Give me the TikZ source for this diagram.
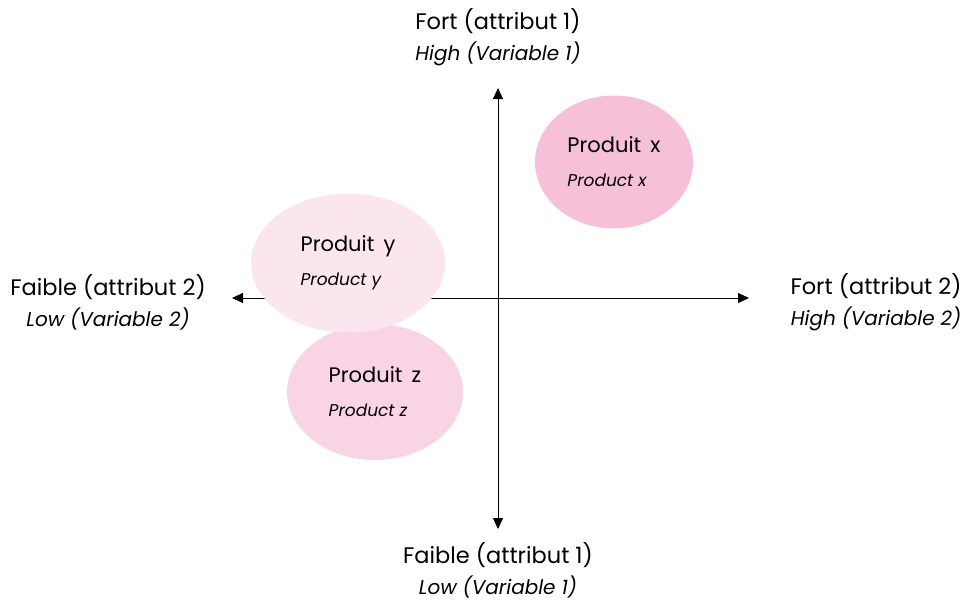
\documentclass[tikz,border=0pt]{standalone}
\usepackage{fontspec}
\setmainfont{Poppins}
\usepackage{xcolor}
\usetikzlibrary{
	arrows.meta,
	positioning,
	shapes.geometric
}
\definecolor{PinkX}{RGB}{247,192,217}
\definecolor{PinkY}{RGB}{251,229,239}
\definecolor{PinkZ}{RGB}{248,212,228}

\newcommand{\polemain}{\fontsize{22.5}{26}\selectfont}
\newcommand{\polesub}{\itshape\fontsize{20}{26}\selectfont}

\begin{document}
\begin{tikzpicture}[x=1pt, y=-1pt,
		axis/.style={{Triangle[length=11pt,width=10pt]}-{Triangle[length=11pt,width=10pt]}, line width=1pt},
		prod/.style={ellipse, inner sep=0pt, align=left, font=\fontsize{21}{24}\selectfont},
		pole/.style={align=center}
	]
		\useasboundingbox (0,0) rectangle (966,600);
		
		\coordinate (T) at (498,88);
		\coordinate (B) at (498,529);
		\coordinate (L) at (232,298);
		\coordinate (R) at (749,298);
		
		\draw[axis] (B) -- (T);
		\draw[axis] (L) -- (R);
		
		% products, z first so y sits over it
		\node[prod, fill=PinkX, minimum width=158pt, minimum height=133pt] (px) at (614,162)
			{Produit\, x\\[10pt]{\itshape\fontsize{17}{20}\selectfont Product x}};
		\node[prod, fill=PinkZ, minimum width=176pt, minimum height=136pt] (pz) at (375,392)
			{Produit\, z\\[10pt]{\itshape\fontsize{17}{20}\selectfont Product z}};
		\node[prod, fill=PinkY, minimum width=194pt, minimum height=139pt] (py) at (348,263)
			{Produit\, y\\[10pt]{\itshape\fontsize{17}{20}\selectfont Product y}};
		
		% pole labels
		\node[pole] (top) at (498,37) {\polemain Fort (attribut 1)\\[7pt]\polesub High (Variable 1)};
		\node[pole] (bot) at (498,570) {\polemain Faible (attribut 1)\\[7pt]\polesub Low (Variable 1)};
		\node[pole] (lft) at (108,302) {\polemain Faible (attribut 2)\\[7pt]\polesub Low (Variable 2)};
		\node[pole] (rgt) at (876,302) {\polemain Fort (attribut 2)\\[7pt]\polesub High (Variable 2)};
	\end{tikzpicture}
\end{document}
